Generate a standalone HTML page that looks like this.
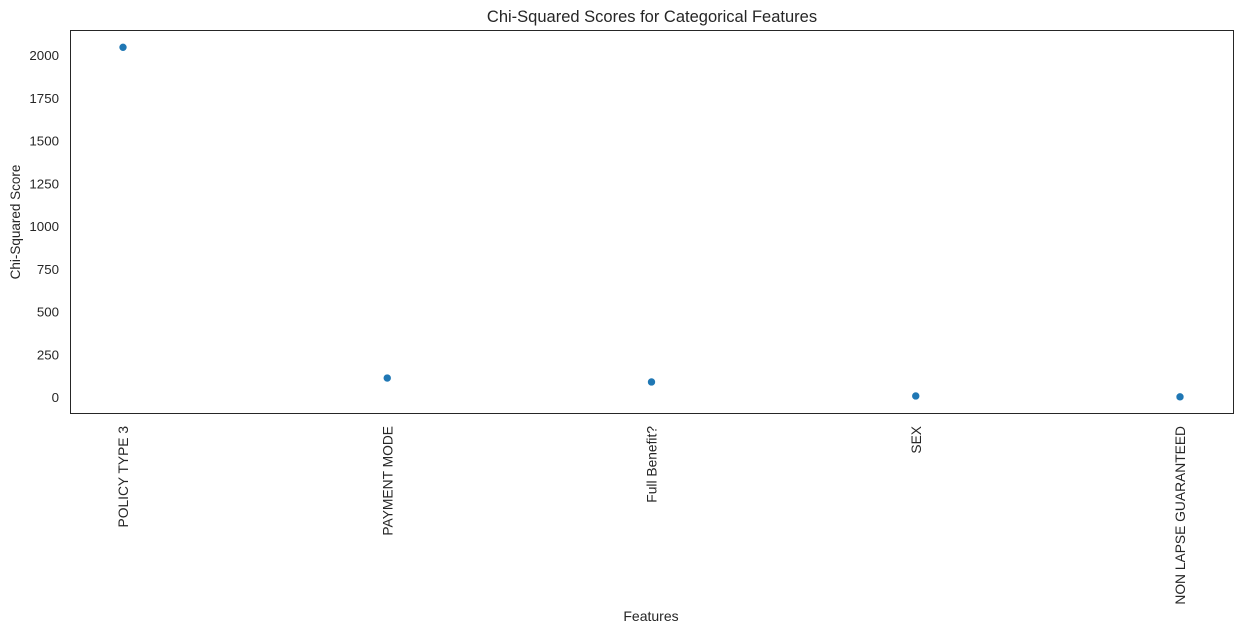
<!DOCTYPE html>
<html><head><meta charset="utf-8"><style>
html,body{margin:0;padding:0;background:#fff;}
svg text{font-family:"Liberation Sans","DejaVu Sans",sans-serif;fill:#262626;}
</style></head><body>
<svg id="chart" width="1242" height="634" xmlns="http://www.w3.org/2000/svg">
<text x="652" y="22" font-size="16.5" text-anchor="middle">Chi-Squared Scores for Categorical Features</text>
<rect x="70.5" y="30.5" width="1163" height="383" fill="none" stroke="#262626" stroke-width="1"/>
<g id="yticks"></g><g id="xticks"></g><g id="points"></g>
<text transform="translate(20,222) rotate(-90)" font-size="13.5" text-anchor="middle">Chi-Squared Score</text>
<text x="651" y="621" font-size="14" text-anchor="middle">Features</text>
</svg>
<script>
const categories = ["POLICY TYPE 3","PAYMENT MODE","Full Benefit?","SEX","NON LAPSE GUARANTEED"];
const scores = [2045, 111, 88, 6, 1];
const yTicks = [0,250,500,750,1000,1250,1500,1750,2000];
const NS="http://www.w3.org/2000/svg";
const xs = i => 123 + i*264.25;
const ys = v => 397 - v*(342/2000);
const yg=document.getElementById('yticks'), xg=document.getElementById('xticks'), pg=document.getElementById('points');
yTicks.forEach(t=>{
  const e=document.createElementNS(NS,'text');
  
  
  e.setAttribute('x',59);e.setAttribute('y',ys(t)+5);e.setAttribute('font-size','13.3');e.setAttribute('text-anchor','end');
  e.textContent=t;yg.appendChild(e);
});
categories.forEach((c,i)=>{
  const e=document.createElementNS(NS,'text');
  
  
  e.setAttribute('transform',`translate(${xs(i)+5},426) rotate(-90)`);e.setAttribute('font-size','13.8');e.setAttribute('text-anchor','end');
  e.textContent=c;xg.appendChild(e);
  const p=document.createElementNS(NS,'circle');
  
  
  p.setAttribute('cx',xs(i));p.setAttribute('cy',ys(scores[i]));p.setAttribute('r',4);
  p.setAttribute('fill','#1f77b4');p.setAttribute('stroke','#fff');p.setAttribute('stroke-width','0.6');
  pg.appendChild(p);
});
</script>
</body></html>
